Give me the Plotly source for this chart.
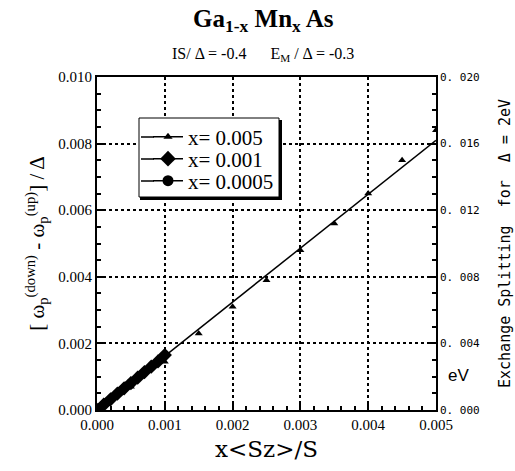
import plotly.graph_objects as go

# Data
x_005 = [0.0005, 0.001, 0.0015, 0.002, 0.0025, 0.003, 0.0035, 0.004, 0.0045, 0.005]
y_005 = [0.0007, 0.00145, 0.0023, 0.0031, 0.0039, 0.0048, 0.0056, 0.0065, 0.0075, 0.0084]
x_001 = [0.0, 0.0001, 0.0002, 0.0003, 0.0004, 0.0005, 0.0006, 0.0007, 0.0008, 0.0009, 0.001]
y_001 = [0.0, 0.00016, 0.00032, 0.00049, 0.00065, 0.00081, 0.00097, 0.00114, 0.0013, 0.00146, 0.00165]
x_0005 = [0.0, 0.00005, 0.0001, 0.00015, 0.0002, 0.00025, 0.0003, 0.00035, 0.0004, 0.00045, 0.0005]
y_0005 = [0.0, 0.00008, 0.00016, 0.00024, 0.00032, 0.00041, 0.00049, 0.00057, 0.00065, 0.00073, 0.00081]
fit_x = [0.0, 0.005]
fit_y = [0.0, 0.0081]

series_names = ["x= 0.005", "x= 0.001", "x= 0.0005"]
y2_alias = {"0.000": "0. 000", "0.004": "0. 004", "0.008": "0. 008",
            "0.012": "0. 012", "0.016": "0. 016", "0.020": "0. 020"}

SERIF = "Liberation Serif"
MONO = "DejaVu Sans Mono"

# pixel -> paper helpers for decorations (paper area: x 97..436, y 61..410)
def px(v):
    return (v - 97) / 339.0
def py(v):
    return (410 - v) / 349.0

fig = go.Figure()
fig.add_trace(go.Scatter(x=fit_x, y=fit_y, mode="lines", line=dict(color="black", width=1.5),
                         showlegend=False, hoverinfo="skip"))
symbols = [("triangle-up", 7), ("diamond", 11), ("circle", 9)]
legend_symbols = [("triangle-up", 8), ("diamond", 12), ("circle", 11)]
datasets = [(x_005, y_005), (x_001, y_001), (x_0005, y_0005)]
for (xs, ys), (sym, sz) in zip(datasets, symbols):
    fig.add_trace(go.Scatter(x=xs, y=ys, mode="markers", showlegend=False,
                             marker=dict(symbol=sym, size=sz, color="black")))
legend_ids = ["legend", "legend2", "legend3"]
for (sym, sz), nm, lid in zip(legend_symbols, series_names, legend_ids):
    fig.add_trace(go.Scatter(x=[None], y=[None], mode="lines+markers", name=nm, legend=lid,
                             line=dict(color="black", width=1.5),
                             marker=dict(symbol=sym, size=sz, color="black")))
# invisible trace for right axis
fig.add_trace(go.Scatter(x=[0], y=[0], yaxis="y2", mode="markers", marker=dict(opacity=0),
                         showlegend=False, hoverinfo="skip"))

axis_common = dict(showline=True, linecolor="black", linewidth=2, mirror=True,
                   ticks="inside", tickcolor="black", ticklen=6, tickwidth=1.5,
                   showgrid=True, gridcolor="black", griddash="dot", gridwidth=1.5,
                   zeroline=False, automargin=False)

row_y = [137, 159, 181]
legend_common = dict(xanchor="left", yanchor="middle", bgcolor="rgba(0,0,0,0)", borderwidth=0,
                     font=dict(family=SERIF, size=21, color="black"))

fig.update_layout(
    width=515, height=471,
    margin=dict(l=97, r=79, t=61, b=61, autoexpand=False),
    paper_bgcolor="white", plot_bgcolor="white",
    showlegend=True,
    legend=dict(x=px(148), y=py(row_y[0]), **legend_common),
    legend2=dict(x=px(148), y=py(row_y[1]), **legend_common),
    legend3=dict(x=px(148), y=py(row_y[2]), **legend_common),
    xaxis=dict(range=[0, 0.005], tick0=0, dtick=0.001, tickformat=".3f",
               tickfont=dict(family=SERIF, size=15, color="black"),
               title=dict(text="x&lt;Sz&gt;/S", font=dict(family="DejaVu Serif", size=23, color="black"), standoff=9),
               minor=dict(ticks="inside", ticklen=4, tickcolor="black", tickwidth=1.5, dtick=0.0002, showgrid=False),
               **axis_common),
    yaxis=dict(range=[0, 0.010], tick0=0, dtick=0.002, tickformat=".3f",
               domain=[0, 333 / 349.0],
               tickfont=dict(family=SERIF, size=15, color="black"),
               title=dict(text="[ ω<sub>p</sub><sup>(down)</sup> - ω<sub>p</sub><sup>(up)</sup>] / Δ",
                          font=dict(family=SERIF, size=21, color="black"), standoff=8),
               minor=dict(ticks="inside", ticklen=4, tickcolor="black", tickwidth=1.5, dtick=0.0005, showgrid=False),
               **axis_common),
    yaxis2=dict(range=[0, 0.020], overlaying="y", side="right", tick0=0, dtick=0.004,
                tickformat=".3f", labelalias=y2_alias, ticklabelstandoff=3, automargin=False,
                tickfont=dict(family=MONO, size=11, color="black"),
                title=dict(text="Exchange Splitting  for  Δ = 2eV",
                           font=dict(family=MONO, size=15, color="black"), standoff=20),
                showline=False, ticks="inside", tickcolor="black", ticklen=6, tickwidth=1.5,
                minor=dict(ticks="inside", ticklen=4, tickcolor="black", tickwidth=1.5, dtick=0.001),
                showgrid=False, zeroline=False),
)

fig.add_annotation(text="<b>Ga<sub>1-x</sub> Mn<sub>x</sub> As</b>", xref="paper", yref="paper",
                   x=px(263), y=py(20), xanchor="center", yanchor="middle", showarrow=False,
                   font=dict(family=SERIF, size=25, color="black"))
fig.add_annotation(text="IS/ Δ = -0.4&nbsp;&nbsp;&nbsp;&nbsp;&nbsp;&nbsp;E<sub>M</sub> / Δ = -0.3",
                   xref="paper", yref="paper",
                   x=px(263), y=py(54), xanchor="center", yanchor="middle", showarrow=False,
                   font=dict(family=SERIF, size=16, color="black"))
fig.add_annotation(text="eV", xref="paper", yref="paper", x=px(446), y=py(375),
                   xanchor="left", yanchor="middle", showarrow=False,
                   font=dict(family="Liberation Sans", size=17, color="black"))

# legend box with shadow
fig.add_shape(type="rect", xref="paper", yref="paper", x0=px(139), x1=px(279), y0=py(197), y1=py(118),
              line=dict(color="black", width=1), fillcolor="white", layer="above")
fig.add_shape(type="line", xref="paper", yref="paper", x0=px(140), x1=px(282), y0=py(198.5), y1=py(198.5),
              line=dict(color="black", width=3), layer="above")
fig.add_shape(type="line", xref="paper", yref="paper", x0=px(280.5), x1=px(280.5), y0=py(120), y1=py(200),
              line=dict(color="black", width=3), layer="above")
# extend legend sample lines to the left edge
for ry in row_y:
    fig.add_shape(type="line", xref="paper", yref="paper", x0=px(141), x1=px(154), y0=py(ry), y1=py(ry),
                  line=dict(color="black", width=1.5), layer="above")

fig.write_html("out.html")
